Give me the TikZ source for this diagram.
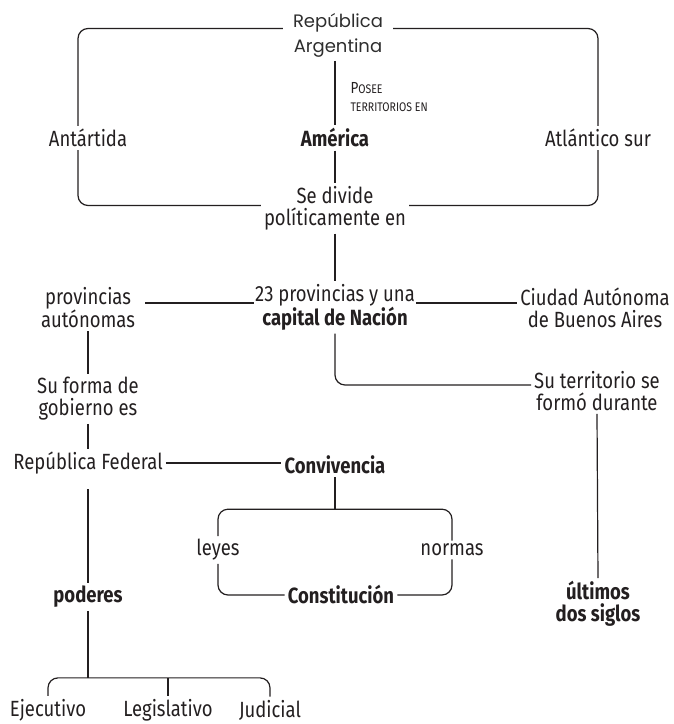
\documentclass[tikz,border=0pt]{standalone}
\usepackage{fontspec}
\setmainfont{Fira Sans}[FakeStretch=0.84]
\newfontfamily\handfont{Poppins}
\definecolor{ink}{HTML}{231F20}
\definecolor{handgray}{HTML}{2E2E2E}

\begin{document}
\begin{tikzpicture}[x=1pt,y=1pt,
  txt/.style={font=\fontsize{22}{22}\selectfont,align=center,text=ink,inner sep=3pt},
  key/.style={txt,font=\fontsize{22}{22}\selectfont\bfseries},
  link/.style={draw=ink,line width=1.2pt,rounded corners=10pt}]
  \useasboundingbox (0,0) rectangle (674,724);

  \node[font=\handfont\fontsize{18}{25}\selectfont,text=handgray,align=center,inner xsep=10pt] (ra) at (338,688.5) {República\\Argentina};
  \node[txt] (ant) at (88,586) {Antártida};
  \node[key] (am) at (335,586) {América};
  \node[txt] (atl) at (598,586) {Atlántico sur};
  \node[anchor=west,align=left,text=ink,font=\fontsize{12.5}{18}\selectfont] (posee) at (347,627) {{\fontsize{16}{18}\selectfont P}OSEE\\TERRITORIOS EN};
  \node[txt] (div) at (335,515.5) {Se divide\\políticamente en};
  \node[txt,inner xsep=1pt] (cap) at (335,416.5) {23 provincias y una\\\textbf{capital de Nación}};
  \node[txt,inner xsep=10pt] (prov) at (88,416.5) {provincias\\autónomas};
  \node[txt] (caba) at (595,416.5) {Ciudad Autónoma\\de Buenos Aires};
  \node[txt] (terr) at (597,333) {Su territorio se\\formó durante};
  \node[txt] (forma) at (88,325) {Su forma de\\gobierno es};
  \node[txt] (rf) at (88,261) {República Federal};
  \node[key] (conv) at (335,259) {Convivencia};
  \node[txt] (leyes) at (218,174) {leyes};
  \node[txt] (normas) at (452,174) {normas};
  \node[key] (const) at (341,129) {Constitución};
  \node[key] (pod) at (88,127) {poderes};
  \node[key] (ult) at (598,120) {últimos\\dos siglos};
  \node[txt] (ej) at (48,14) {Ejecutivo};
  \node[txt] (leg) at (168,14) {Legislativo};
  \node[txt] (jud) at (270,14) {Judicial};

  \draw[link] ([yshift=7pt]ra.west) -| ([xshift=-10pt]ant.north);
  \draw[link] ([yshift=7pt]ra.east) -| (atl.north);
  \draw[link] ([xshift=-10pt]ant.south) |- ([yshift=3pt]div.west);
  \draw[link] (atl.south) |- ([yshift=3pt]div.east);
  \draw[link] (am.north |- ra.south) -- (am.north);
  \draw[link] (am.south) -- (div.north);
  \draw[link] (div.south) -- (cap.north);
  \draw[link] ([yshift=4.5pt]prov.east) -- ([yshift=4.5pt]cap.west);
  \draw[link] ([yshift=4.5pt]cap.east) -- ([yshift=4.5pt]caba.west);
  \draw[link] (cap.south) |- ([yshift=6pt]terr.west);
  \draw[link] (prov.south) -- (forma.north);
  \draw[link] (forma.south) -- (rf.north);
  \draw[link] (rf.east) -- (rf.east -| conv.west);
  \draw[link,shorten <=12pt] (rf.south) -- (pod.north);
  \draw[link] (leyes.north) -- ++(0,27) coordinate (lt) -| (normas.north);
  \draw[link] (conv.south) -- (conv.south |- lt);
  \draw[link] (leyes.south) |- (const.west);
  \draw[link] (normas.south) |- (const.east);
  \draw[link] (ej.north) -- ++(0,18) coordinate (bt) -| (jud.north);
  \draw[link] (pod.south) -- (pod.south |- bt);
  \draw[link] (leg.north) -- (leg.north |- bt);
  \draw[link] (terr.south) -- (ult.north);
\end{tikzpicture}
\end{document}
